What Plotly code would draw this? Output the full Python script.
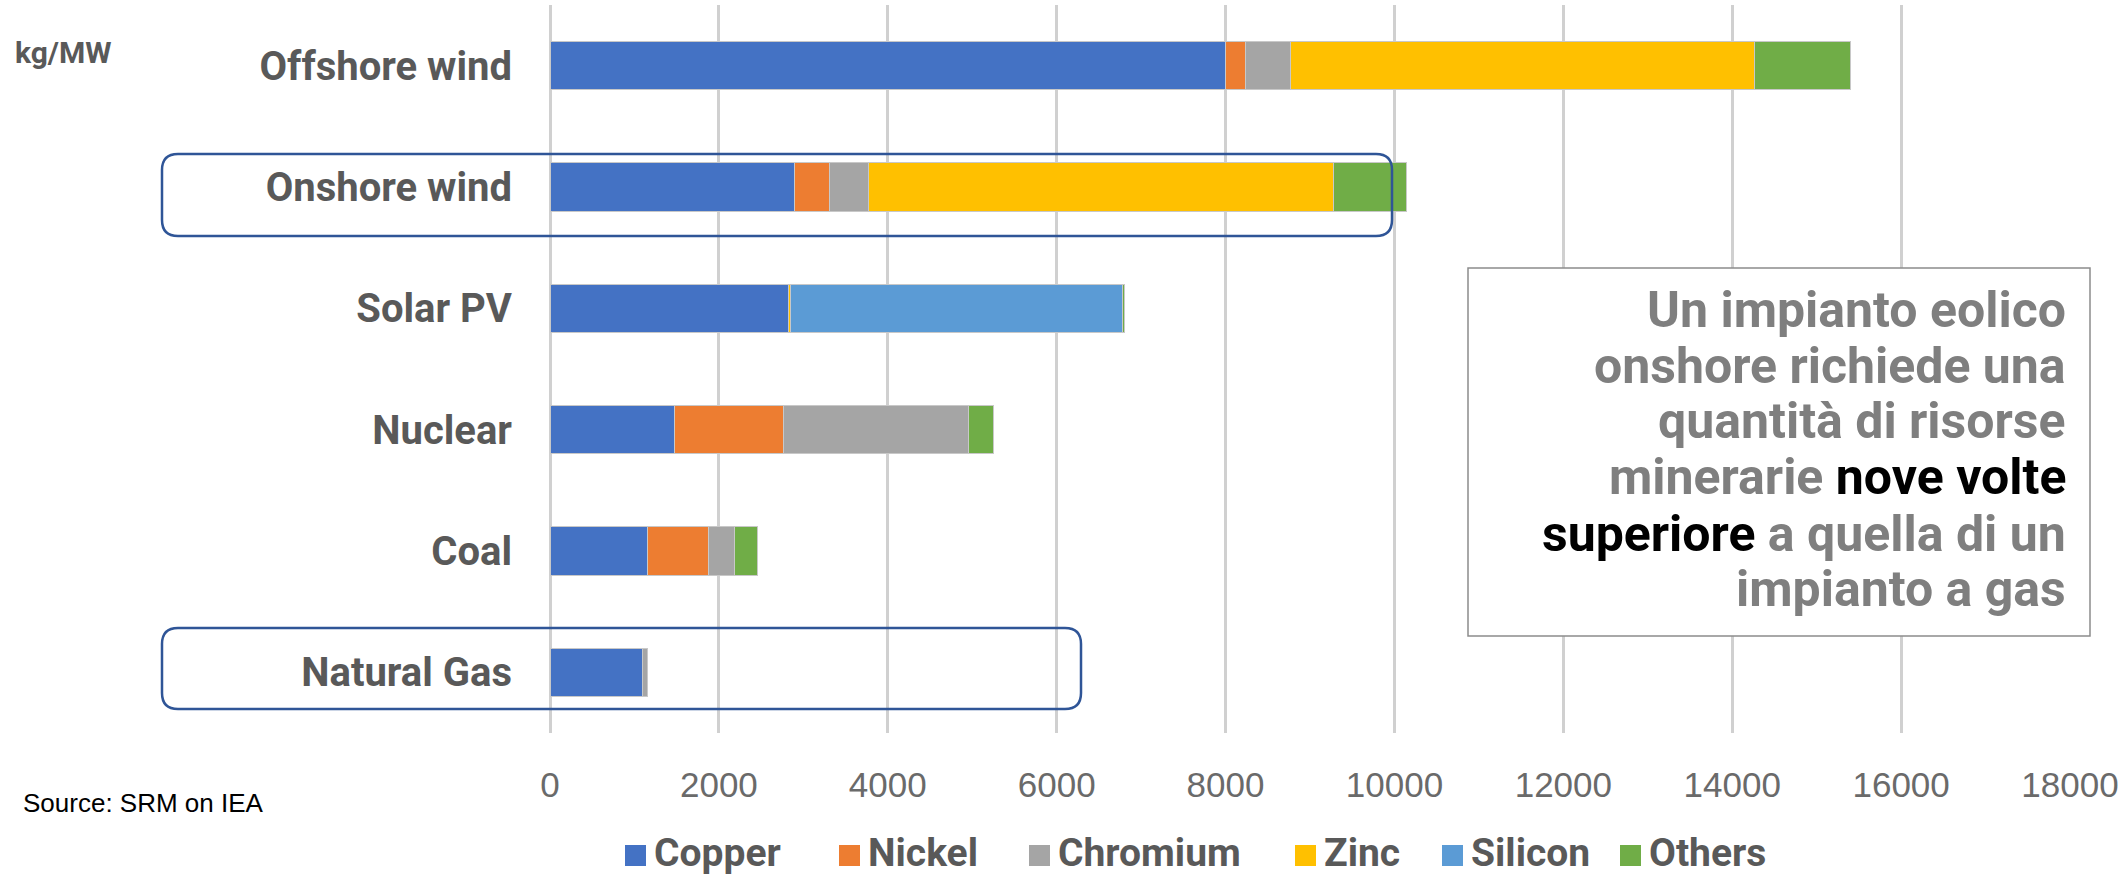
import plotly.graph_objects as go

# ---------------- data ----------------
categories = ["Offshore wind", "Onshore wind", "Solar PV", "Nuclear", "Coal", "Natural Gas"]
series_names = ["Copper", "Nickel", "Chromium", "Zinc", "Silicon", "Others"]
copper = [8000, 2900, 2822, 1473, 1150, 1100]
nickel = [240, 404, 0, 1297, 721, 0]
chromium = [525, 470, 0, 2190, 308, 60]
zinc = [5500, 5500, 30, 0, 0, 0]
silicon = [0, 0, 3930, 0, 0, 0]
others = [1140, 870, 20, 290, 280, 0]
series_values = [copper, nickel, chromium, zinc, silicon, others]
colors = ["#4472C4", "#ED7D31", "#A5A5A5", "#FFC000", "#5B9BD5", "#70AD47"]
x_ticks = [0, 2000, 4000, 6000, 8000, 10000, 12000, 14000, 16000, 18000]
x_tick_labels = [str(v) for v in x_ticks]

# ---------------- layout geometry (pixels) ----------------
WIDTH, HEIGHT = 2126, 877
L, R, T, B = 550, 2070, 5, 733
PW, PH = R - L, B - T


def px(x):
    return (x - L) / PW


def py(y):
    return (B - y) / PH


def rounded_path(x0, y0, x1, y1, r):
    a, b = px(x0), px(x1)
    top, bot = py(y0), py(y1)
    rx, ry = r / PW, r / PH
    return (f"M {a+rx},{top} L {b-rx},{top} Q {b},{top} {b},{top-ry} "
            f"L {b},{bot+ry} Q {b},{bot} {b-rx},{bot} L {a+rx},{bot} "
            f"Q {a},{bot} {a},{bot+ry} L {a},{top-ry} Q {a},{top} {a+rx},{top} Z")


fig = go.Figure()
for name, vals, col in zip(series_names, series_values, colors):
    fig.add_trace(go.Bar(
        y=categories, x=vals, name=name, orientation="h",
        marker=dict(color=col, line=dict(color="#C8C8C8", width=1)),
        showlegend=False,
    ))

shapes = []
annotations = []

# highlight boxes
shapes.append(dict(type="path", xref="paper", yref="paper",
                   path=rounded_path(162, 154, 1392, 236, 16),
                   line=dict(color="#2F5597", width=2.5), fillcolor="rgba(0,0,0,0)"))
shapes.append(dict(type="path", xref="paper", yref="paper",
                   path=rounded_path(162, 628, 1081, 709, 16),
                   line=dict(color="#2F5597", width=2.5), fillcolor="rgba(0,0,0,0)"))

# text box
shapes.append(dict(type="rect", xref="paper", yref="paper",
                   x0=px(1468), x1=px(2090), y0=py(268), y1=py(636),
                   line=dict(color="#8C8C8C", width=1.5), fillcolor="white"))

gray = "#7F7F7F"
box_lines = [
    "Un impianto eolico",
    "onshore richiede una",
    "quantità di risorse",
    "minerarie <span style='color:#000000'>nove volte</span>",
    "<span style='color:#000000'>superiore</span> a quella di un",
    "impianto a gas",
]
line_y = [310, 366, 421, 477, 534, 589]
for txt, yy in zip(box_lines, line_y):
    annotations.append(dict(xref="paper", yref="paper", x=px(2068), y=py(yy),
                            xanchor="right", yanchor="middle", showarrow=False,
                            text=txt, font=dict(family="Roboto", size=50, color=gray, weight="bold")))

# unit label
annotations.append(dict(xref="paper", yref="paper", x=px(13), y=py(53),
                        xanchor="left", yanchor="middle", showarrow=False, text="kg/MW",
                        font=dict(family="Roboto", size=30, color="#595959", weight="bold")))
# source
annotations.append(dict(xref="paper", yref="paper", x=px(21), y=py(803),
                        xanchor="left", yanchor="middle", showarrow=False, text="Source: SRM on IEA",
                        font=dict(family="Liberation Sans", size=26, color="#000000")))

# legend (manual, larger squares as in reference)
legend_x = [625, 839, 1029, 1295, 1442, 1620]
for name, col, lx in zip(series_names, colors, legend_x):
    shapes.append(dict(type="rect", xref="paper", yref="paper",
                       x0=px(lx), x1=px(lx + 21), y0=py(845), y1=py(866),
                       line=dict(width=0), fillcolor=col))
    annotations.append(dict(xref="paper", yref="paper", x=px(lx + 27), y=py(853),
                            xanchor="left", yanchor="middle", showarrow=False, text=name,
                            font=dict(family="Roboto", size=39, color="#595959", weight="bold")))

fig.update_layout(
    barmode="stack",
    bargap=0.604,
    width=WIDTH, height=HEIGHT,
    margin=dict(l=L, r=WIDTH - R, t=T, b=HEIGHT - B, pad=0),
    plot_bgcolor="white", paper_bgcolor="white",
    shapes=shapes, annotations=annotations,
    xaxis=dict(range=[0, 18000], tickvals=x_ticks, ticktext=x_tick_labels,
               showgrid=True, gridcolor="#D0D0D0", gridwidth=2.5,
               zeroline=True, zerolinecolor="#D0D0D0", zerolinewidth=2.5, showline=False,
               tickfont=dict(family="Liberation Sans", size=35, color="#6A6A6A"),
               ticks="", ticklabelstandoff=28, fixedrange=True),
    yaxis=dict(autorange="reversed", showgrid=False, zeroline=False, showline=False,
               tickfont=dict(family="Roboto", size=40, color="#595959", weight="bold"),
               ticks="", ticklabelstandoff=37),
)

fig.write_html("out.html")
